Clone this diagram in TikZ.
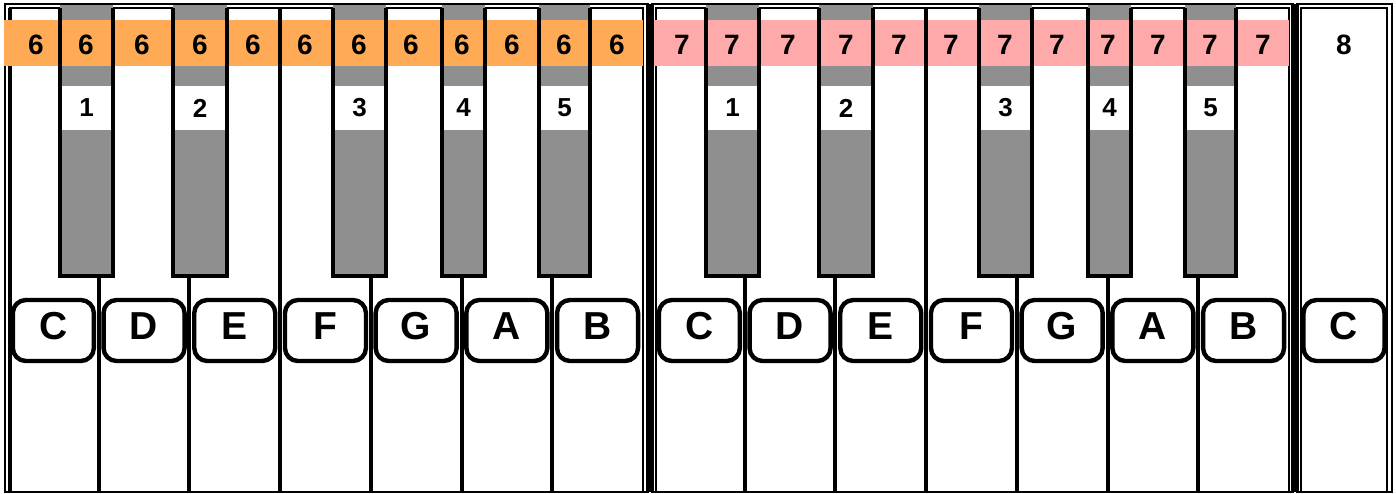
\documentclass[tikz,border=0pt]{standalone}
\usepackage{fontspec}
\setmainfont{Liberation Sans}
\definecolor{keygray}{RGB}{143,143,143}
\definecolor{bandorange}{RGB}{255,170,85}
\definecolor{bandpink}{RGB}{255,170,170}
\def\blackkeys{60/113/1,173/227/2,333/386/3,442/485/4,539/590/5}
\tikzset{
  frameline/.style={line width=1pt},
  sepline/.style={line width=1.75pt},
  keyline/.style={line width=2pt},
  namebox/.style={draw,line width=2.2pt,fill=white,rounded corners=6.5pt},
  keynum/.style={font=\fontsize{13}{15}\selectfont\bfseries},
  bandnum/.style={font=\fontsize{14}{16}\selectfont\bfseries},
  keyname/.style={font=\fontsize{19.5}{22}\selectfont\bfseries},
}

\begin{document}
\begin{tikzpicture}[x=0.5pt,y=-0.5pt]
    \useasboundingbox (0,0) rectangle (1396,493);
    \fill[white] (0,0) rectangle (1396,493);

    % octave frames
    \foreach \oa/\ia/\ib/\ob in {5/10/643/648,652/656/1289/1293,1297/1301/1387/1392}{
        \draw[frameline] (\oa,4) rectangle (\ob,492);
        \draw[frameline] (\ia,8) rectangle (\ib,492);
    }
    \draw[sepline] (10,8) -- (10,492);

    \foreach \off/\col/\num in {0/bandorange/6,646/bandpink/7}{
        % black keys
        \foreach \xa/\xb/\lab in \blackkeys{
            \fill[keygray] (\off+\xa,5) rectangle (\off+\xb,276);
            \fill[white] (\off+\xa,86) rectangle (\off+\xb,130);
            \node[keynum] (bk-\num-\lab) at ({\off+(\xa+\xb)/2},108) {\lab};
        }

        % octave band
        \fill[\col] (\off+4,20) rectangle (\off+643,66);
        \foreach \xx [count=\i] in {36,86,142,200,253,305,359,411,462,512,564,617}{
            \node[bandnum] (oct-\num-\i) at (\off+\xx,45) {\num};
        }

        \foreach \xa/\xb/\lab in \blackkeys{
            \draw[keyline] (\off+\xa,8) -- (\off+\xa,276)
                -- (\off+\xb,276) -- (\off+\xb,8);
        }

        % white keys
        \foreach \k in {1,...,6}{
            \pgfmathsetmacro{\xx}{\off+8+90.7*\k}
            \ifnum\k=3 \def\ytop{8}\else\def\ytop{276}\fi
            \draw[keyline] (\xx,\ytop) -- (\xx,492);
        }
        \foreach \nm [count=\k from 0] in {C,D,E,F,G,A,B}{
            \pgfmathsetmacro{\xc}{\off+8+90.7*(\k+0.5)}
            \draw[namebox] (\xc-40.5,300) rectangle (\xc+40.5,361);
            \node[keyname] (wk-\num-\nm) at (\xc,326) {\nm};
        }
    }

    % last C
    \node[bandnum] (oct-8) at (1344,45) {8};
    \draw[namebox] (1303.5,300) rectangle (1384.5,361);
    \node[keyname] (wk-8-C) at (1344,326) {C};

    \foreach \xx in {648,652,1293,1297}{
        \draw[sepline] (\xx,4) -- (\xx,492);
    }
\end{tikzpicture}
\end{document}
